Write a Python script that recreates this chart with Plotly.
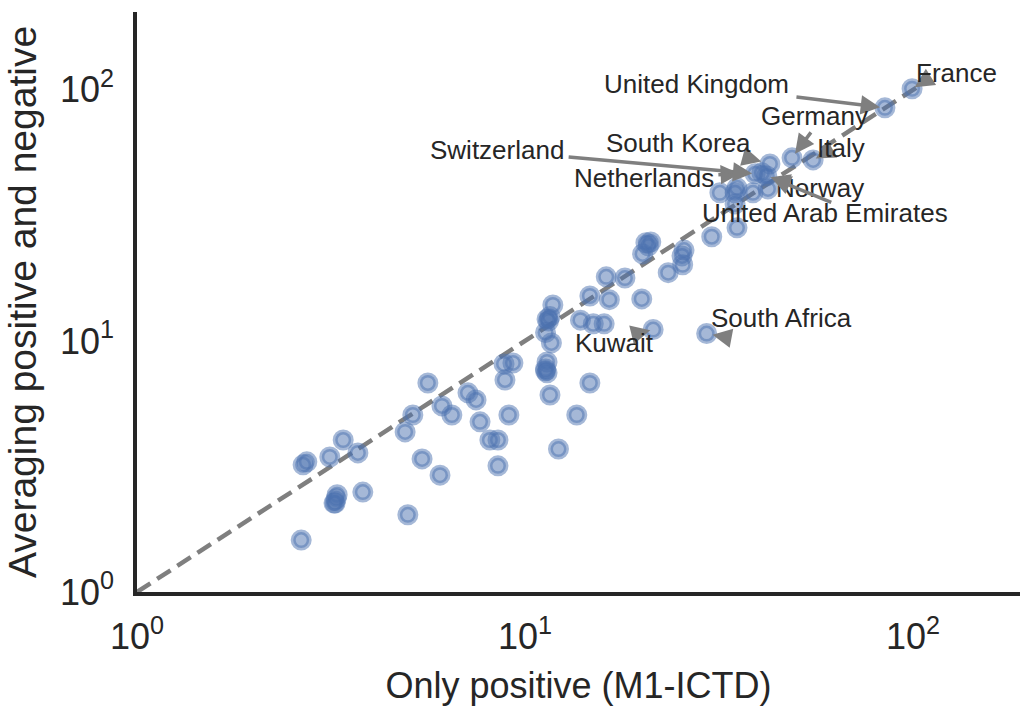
import plotly.graph_objects as go
import math

# ---- data ----
x_vals = [99.5, 84.7, 48.8, 55.3, 42.8, 40.8, 39.2, 42.0, 29.4, 21.4,
          31.8, 35.2, 34.8, 38.7, 42.3, 34.8, 35.2, 30.3, 20.5, 21.1,
          20.8, 20.1, 25.7, 25.4, 25.5, 23.4, 16.2, 18.1, 14.7, 16.5,
          20.0, 11.8, 11.6, 11.5, 11.4, 11.3, 11.7, 13.9, 15.0, 16.0,
          11.4, 11.3, 11.4, 11.3, 14.7, 11.6, 13.6, 12.2, 9.31, 8.83,
          8.88, 7.13, 7.48, 5.62, 6.11, 6.48, 5.14, 7.66, 9.09, 4.91,
          8.12, 8.52, 5.43, 6.04, 3.40, 3.14, 3.71, 2.74, 2.68, 3.28,
          3.26, 3.24, 3.22, 3.82, 4.99, 2.65, 8.52]
y_vals = [101, 84.8, 53.6, 52.6, 50.7, 46.7, 46.3, 45.4, 10.7, 11.1,
          38.9, 40.7, 38.9, 38.9, 40.3, 35.1, 28.2, 26.0, 24.6, 24.8,
          23.9, 22.2, 23.0, 21.8, 20.1, 18.7, 18.0, 17.8, 15.1, 14.6,
          14.7, 13.9, 12.5, 12.0, 12.2, 10.8, 9.82, 12.1, 11.7, 11.7,
          8.25, 7.73, 7.46, 7.6, 6.80, 6.09, 5.07, 3.71, 8.17, 8.10,
          6.99, 6.21, 5.82, 6.80, 5.51, 5.07, 5.07, 4.76, 5.07, 4.34,
          4.03, 4.03, 3.39, 2.92, 4.03, 3.45, 3.58, 3.30, 3.21, 2.44,
          2.35, 2.26, 2.26, 2.50, 2.03, 1.61, 3.18]

label_names = ["France", "United Kingdom", "Germany", "Italy", "South Korea",
               "Netherlands", "Switzerland", "Norway", "United Arab Emirates",
               "South Africa", "Kuwait"]
label_idx = [0, 1, 2, 3, 4, 5, 6, 7, 7, 8, 9]

diag_ends = [1, 109]

# ---- styling / placement of labels (pixels relative to point) ----
text_shift = {
    "France": (44, 16), "United Kingdom": (-188, 24), "Germany": (22, 42),
    "Italy": (28, 12), "South Korea": (-91, 21), "Netherlands": (-118, -5),
    "Switzerland": (-258, 24), "Norway": (53, -12),
    "United Arab Emirates": (58, -37), "South Africa": (75, 16),
    "Kuwait": (-39, -13),
}
arrow_tail = {
    "France": (16, -10, 3), "United Kingdom": (-90, -11, 5), "Germany": (20, -27, 5),
    "Italy": (18, -10, 3), "South Korea": (-26, -7, 9), "Netherlands": (-45, 2, 22),
    "Switzerland": (-188, -17, 3), "Norway": (18, 6, 4),
    "United Arab Emirates": (66, 27, 5), "South Africa": (21, 4, 6),
    "Kuwait": (-16, 4, 3),
}

BLUE = "rgba(76,114,176,0.5)"
GRAY = "#7f7f7f"
DARK = "#262626"
FONT = "Liberation Sans, Arial, sans-serif"

fig = go.Figure()
fig.add_trace(go.Scatter(
    x=diag_ends, y=diag_ends, mode="lines",
    line=dict(color=GRAY, width=4.5, dash="16px,8px"),
    hoverinfo="skip", showlegend=False))
fig.add_trace(go.Scatter(
    x=x_vals, y=y_vals, mode="markers",
    marker=dict(size=16, color=BLUE, line=dict(color=BLUE, width=5)),
    showlegend=False))

annotations = []
for name, i in zip(label_names, label_idx):
    lx, ly = math.log10(x_vals[i]), math.log10(y_vals[i])
    ax, ay, so = arrow_tail[name]
    annotations.append(dict(
        x=lx, y=ly, xref="x", yref="y", text="", showarrow=True,
        ax=ax, ay=ay, axref="pixel", ayref="pixel",
        arrowhead=2, arrowsize=1.1, arrowwidth=3.5, arrowcolor=GRAY, standoff=so))
    dx, dy = text_shift[name]
    annotations.append(dict(
        x=lx, y=ly, xref="x", yref="y", text=name, showarrow=False,
        xshift=dx, yshift=dy, xanchor="center", yanchor="middle",
        font=dict(size=26, color=DARK, family=FONT)))

tick_vals = [1, 10, 100]
tick_text = ["10<sup>0</sup>", "10<sup>1</sup>", "10<sup>2</sup>"]

fig.update_layout(
    width=1023, height=709,
    margin=dict(l=137, r=3, t=12, b=117),
    paper_bgcolor="white", plot_bgcolor="white",
    font=dict(family=FONT, color=DARK),
    annotations=annotations,
)
fig.update_xaxes(
    type="log", range=[0, 2.276], showgrid=False, zeroline=False,
    showline=True, linecolor=DARK, linewidth=3.5,
    tickvals=tick_vals, ticktext=tick_text, ticks="",
    tickfont=dict(size=36, color=DARK), ticklabelstandoff=10,
    title=dict(text="Only positive (M1-ICTD)", font=dict(size=36, color=DARK), standoff=18),
)
fig.update_yaxes(
    type="log", range=[0, 2.31], showgrid=False, zeroline=False,
    showline=True, linecolor=DARK, linewidth=3.5,
    tickvals=tick_vals, ticktext=tick_text, ticks="",
    tickfont=dict(size=36, color=DARK), ticklabelstandoff=12,
    title=dict(text="Averaging positive and negative", font=dict(size=39, color=DARK), standoff=12),
)

fig.write_html("out.html")
